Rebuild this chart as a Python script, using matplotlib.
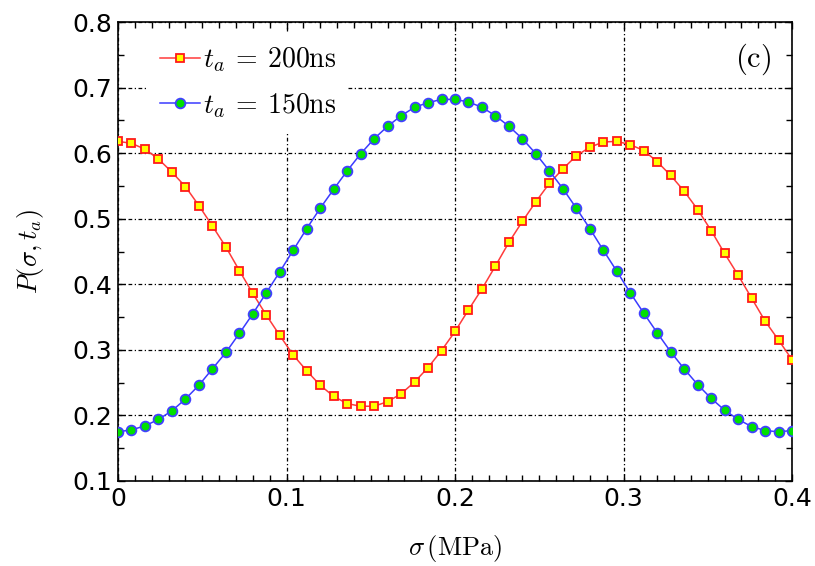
import numpy as np
import matplotlib
matplotlib.use("Agg")
import matplotlib.pyplot as plt
from matplotlib.ticker import MultipleLocator, FuncFormatter

plt.rcParams["mathtext.fontset"] = "cm"

# stress values (MPa), step 0.008
sigma = np.round(np.arange(51) * 0.008, 3)

p_200 = [0.618, 0.615, 0.606, 0.591, 0.571, 0.549, 0.520, 0.489, 0.457, 0.421,
         0.386, 0.353, 0.322, 0.292, 0.268, 0.246, 0.229, 0.218, 0.214, 0.214,
         0.221, 0.233, 0.251, 0.273, 0.299, 0.328, 0.361, 0.393, 0.428, 0.464,
         0.496, 0.526, 0.554, 0.576, 0.596, 0.609, 0.617, 0.618, 0.613, 0.604,
         0.587, 0.566, 0.542, 0.514, 0.482, 0.447, 0.414, 0.379, 0.344, 0.315,
         0.285]

p_150 = [0.175, 0.178, 0.184, 0.194, 0.207, 0.225, 0.246, 0.271, 0.296, 0.325,
         0.355, 0.387, 0.419, 0.452, 0.485, 0.516, 0.545, 0.573, 0.599, 0.622,
         0.641, 0.657, 0.670, 0.677, 0.682, 0.682, 0.678, 0.670, 0.657, 0.641,
         0.622, 0.599, 0.573, 0.546, 0.516, 0.485, 0.452, 0.420, 0.387, 0.356,
         0.326, 0.297, 0.271, 0.247, 0.226, 0.208, 0.194, 0.183, 0.177, 0.175,
         0.177]

labels = [r"$t_a\: =\: 200\mathrm{ns}$", r"$t_a\: =\: 150\mathrm{ns}$"]

fig = plt.figure(figsize=(8.15, 5.66), dpi=100)
ax = fig.add_axes([0.1448, 0.1502, 0.9718 - 0.1448, 0.9611 - 0.1502])

ax.plot(sigma, p_200, color="#ff3b3b", lw=1.1, marker="s", ms=6,
        mfc="#ffff00", mec="#ff1a1a", mew=1.3, label=labels[0], zorder=3)
ax.plot(sigma, p_150, color="#3b3bff", lw=1.1, marker="o", ms=7,
        mfc="#00e000", mec="#4040ff", mew=1.3, label=labels[1], zorder=3)

ax.set_xlim(0, 0.4)
ax.set_ylim(0.1, 0.8)
ax.xaxis.set_major_locator(MultipleLocator(0.1))
ax.xaxis.set_minor_locator(MultipleLocator(0.01))
ax.yaxis.set_major_locator(MultipleLocator(0.1))
ax.yaxis.set_minor_locator(MultipleLocator(0.05))
ax.xaxis.set_major_formatter(FuncFormatter(
    lambda v, p: "0" if abs(v) < 1e-9 else f"{v:.1f}"))
ax.yaxis.set_major_formatter(FuncFormatter(lambda v, p: f"{v:.1f}"))

ax.tick_params(which="both", direction="in", top=True, right=True,
               width=1.0, labelsize=18, pad=4)
ax.tick_params(which="major", length=5)
ax.tick_params(which="minor", length=4)
for lab in ax.get_xticklabels() + ax.get_yticklabels():
    lab.set_family("DejaVu Sans")
for s in ax.spines.values():
    s.set_linewidth(1.2)

ax.grid(True, which="major", color="black", lw=0.9,
        linestyle=(0, (3, 2, 1, 2)), zorder=1)

ax.set_xlabel(r"$\sigma\,(\mathrm{MPa})$", fontsize=19, labelpad=16)
ax.set_ylabel(r"$P(\sigma,t_a)$", fontsize=19, labelpad=19)

leg = ax.legend(loc="lower left", bbox_to_anchor=(0.044, 0.76), fontsize=20,
                frameon=True, fancybox=False, handlelength=1.45,
                handletextpad=0.08, labelspacing=0.6, borderaxespad=0.0,
                borderpad=0.45)
leg.get_frame().set_edgecolor("none")
leg.get_frame().set_facecolor("white")
leg.get_frame().set_alpha(1.0)
leg.set_zorder(5)

ax.text(0.942, 0.918, r"$\mathrm{(c)}$", transform=ax.transAxes, fontsize=22,
        ha="center", va="center")

fig.savefig("out.png", dpi=100)
